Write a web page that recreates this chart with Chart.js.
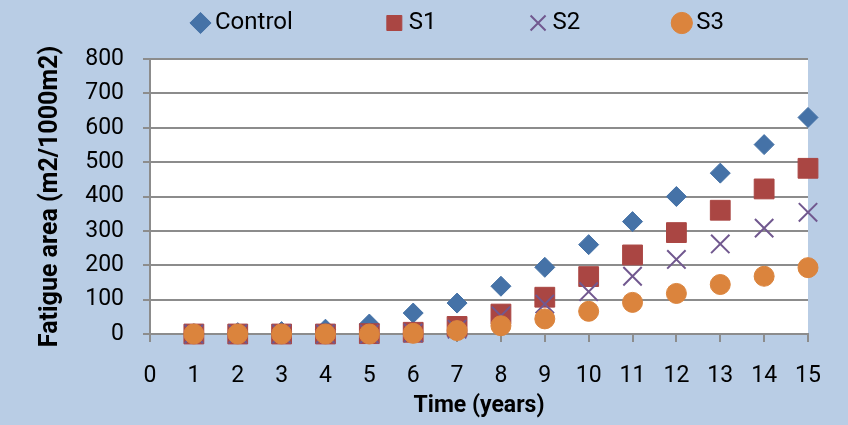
<!DOCTYPE html>
<html>
<head>
<meta charset="utf-8">
<script src="https://cdn.jsdelivr.net/npm/chart.js@4/dist/chart.umd.min.js"></script>
<style>
  html, body { margin: 0; padding: 0; background: #b9cde5; }
  canvas { display: block; }
</style>
</head>
<body>
<canvas id="fatigue-chart" width="848" height="425"></canvas>
<script>
// years on the x axis
const years = [1, 2, 3, 4, 5, 6, 7, 8, 9, 10, 11, 12, 13, 14, 15];

// fatigue area (m2/1000m2) per scenario
const control = [1, 4, 7, 14, 29, 61, 90, 139, 194, 260, 327, 400, 468, 551, 630];
const s1 = [0, 0, 0, 0, 1, 5, 22, 58, 107, 167, 230, 295, 360, 422, 482];
const s2 = [0, 0, 0, 0, 0, 3, 14, 53, 87, 123, 168, 217, 262, 308, 354];
const s3 = [0, 0, 0, 0, 0, 2, 10, 24, 44, 66, 92, 118, 144, 168, 193];

const seriesNames = ['Control', 'S1', 'S2', 'S3'];

const toPoints = vals => vals.map((v, i) => ({ x: years[i], y: v }));

const GRID = '#8c8c8c';
const FONT = 'Roboto';

// light blue page + white plot area
const background = {
  id: 'background',
  beforeDraw(chart) {
    const { ctx, chartArea: a } = chart;
    ctx.save();
    ctx.fillStyle = '#b9cde5';
    ctx.fillRect(0, 0, chart.width, chart.height);
    ctx.fillStyle = '#ffffff';
    ctx.fillRect(a.left, a.top, a.right - a.left, a.bottom - a.top);
    ctx.restore();
  }
};

// put the legend row where the original has it
const legendPlace = {
  id: 'legendPlace',
  afterLayout(chart) {
    const lg = chart.legend;
    const p = lg.options.labels.padding;
    lg.left = 198 - p;
    lg.right = 2000;
    lg.top = 11 - p;
  }
};

new Chart(document.getElementById('fatigue-chart'), {
  type: 'scatter',
  data: {
    datasets: [
      {
        label: seriesNames[0],
        data: toPoints(control),
        pointStyle: 'rectRot',
        pointRadius: 10,
        backgroundColor: '#4572a7',
        borderColor: '#4572a7',
        borderWidth: 1,
        order: 4,
        clip: false
      },
      {
        label: seriesNames[1],
        data: toPoints(s1),
        pointStyle: 'rect',
        pointRadius: 14,
        backgroundColor: '#aa4643',
        borderColor: '#aa4643',
        borderWidth: 1,
        order: 3,
        clip: false
      },
      {
        label: seriesNames[2],
        data: toPoints(s2),
        pointStyle: 'crossRot',
        pointRadius: 13,
        backgroundColor: '#71588f',
        borderColor: '#71588f',
        borderWidth: 2,
        order: 2,
        clip: false
      },
      {
        label: seriesNames[3],
        data: toPoints(s3),
        pointStyle: 'circle',
        pointRadius: 10,
        backgroundColor: '#db843d',
        borderColor: '#db843d',
        borderWidth: 1,
        order: 1,
        clip: false
      }
    ]
  },
  options: {
    responsive: false,
    animation: false,
    layout: { padding: { left: 0, right: 40, top: 0, bottom: 0 } },
    plugins: {
      tooltip: { enabled: false },
      legend: {
        position: 'top',
        align: 'start',
        maxHeight: 59,
        labels: {
          usePointStyle: true,
          boxWidth: 5,
          boxHeight: 15,
          padding: 99,
          color: '#000',
          font: { family: FONT, size: 24 },
          sort: (a, b) => a.datasetIndex - b.datasetIndex
        }
      }
    },
    scales: {
      x: {
        type: 'linear',
        min: 0,
        max: 15,
        afterFit: scale => { scale.height = 91; },
        ticks: {
          stepSize: 1,
          padding: 20,
          color: '#000',
          font: { family: FONT, size: 23 }
        },
        grid: {
          drawOnChartArea: false,
          drawTicks: true,
          tickLength: 8,
          color: GRID,
          lineWidth: 2
        },
        border: { color: GRID, width: 2 },
        title: {
          display: true,
          text: 'Time (years)',
          color: '#000',
          font: { family: FONT, size: 23, weight: 'bold' },
          padding: { top: 0, bottom: 5 }
        }
      },
      y: {
        min: 0,
        max: 800,
        afterFit: scale => { scale.width = 150; },
        ticks: {
          stepSize: 100,
          padding: 19,
          color: '#000',
          font: { family: FONT, size: 23 }
        },
        grid: {
          color: GRID,
          lineWidth: 2,
          tickLength: 7
        },
        border: { color: GRID, width: 2 },
        title: {
          display: true,
          text: 'Fatigue area (m2/1000m2)',
          color: '#000',
          font: { family: FONT, size: 25, weight: 'bold' },
          padding: { top: 36, bottom: 0 }
        }
      }
    }
  },
  plugins: [background, legendPlace]
});
</script>
</body>
</html>
